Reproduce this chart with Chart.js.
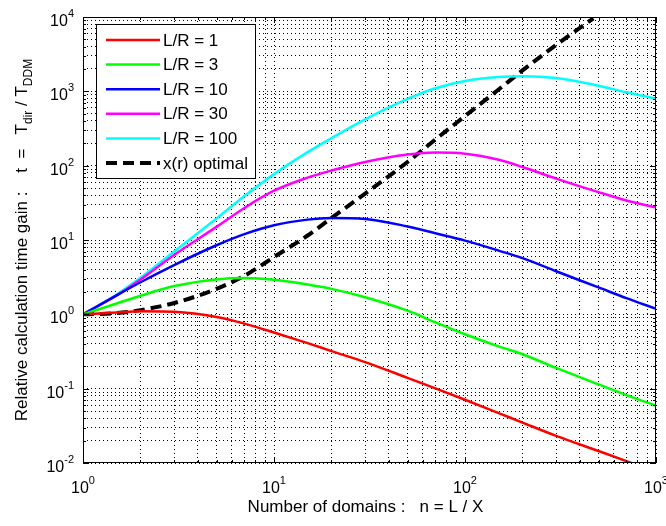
<!DOCTYPE html>
<html lang="en">
<head>
    <meta charset="UTF-8">
    <title>Relative calculation time gain</title>
    <script src="https://cdn.jsdelivr.net/npm/chart.js@4.4.0/dist/chart.umd.min.js"></script>
    <style>
        html, body { margin: 0; padding: 0; background: #fff; }
        #wrap { width: 666px; height: 526px; position: relative; }
    </style>
</head>
<body>
<div id="wrap"><canvas id="gainChart"></canvas></div>
<script>
// number of domains n (x axis)
const nValues = [1, 1.5, 2, 3, 5, 7, 10, 15, 20, 30, 50, 70, 100, 150, 200, 300, 500, 700, 1000];

// time gain t for each L/R ratio
const gainLR1   = [1, 1.06, 1.1, 1.08, 0.92, 0.75, 0.57, 0.41, 0.32, 0.228, 0.14, 0.101, 0.071, 0.047, 0.035, 0.0232, 0.0145, 0.0106, 0.0075];
const gainLR3   = [1, 1.4, 1.78, 2.4, 2.95, 3.08, 2.92, 2.52, 2.2, 1.7, 1.12, 0.78, 0.54, 0.37, 0.29, 0.19, 0.114, 0.082, 0.059];
const gainLR10  = [1, 1.8, 2.7, 4.6, 8.5, 12, 15.8, 18.8, 19.7, 19.2, 15.2, 12.3, 9.8, 7.2, 5.7, 3.8, 2.3, 1.65, 1.19];
const gainLR30  = [1, 1.8, 2.95, 6.3, 15, 27, 46, 69, 86, 112, 141, 150, 145, 120, 96, 67, 44, 34, 27.3];
const gainLR100 = [1, 1.85, 3.1, 7.0, 19.5, 39, 77, 152, 235, 420, 790, 1100, 1380, 1560, 1600, 1510, 1190, 970, 800];

// optimal curve x(r)
const nOptimal    = [1, 1.5, 2, 3, 5, 7, 10, 15, 20, 30, 50, 70, 100, 150, 200, 300, 470];
const gainOptimal = [1, 1.04, 1.14, 1.42, 2.2, 3.3, 5.9, 11.5, 19.8, 42, 112, 225, 465, 1060, 1910, 4200, 9600];

const seriesLabels = ['L/R = 1', 'L/R = 3', 'L/R = 10', 'L/R = 30', 'L/R = 100', 'x(r) optimal'];
const seriesColors = ['#ff0000', '#00ff00', '#0000ff', '#ff00ff', '#00ffff', '#000000'];

const xDecades = [1, 10, 100, 1000];
const yDecades = [0.01, 0.1, 1, 10, 100, 1000, 10000];
const xExponents = ['0', '1', '2', '3'];
const yExponents = ['-2', '-1', '0', '1', '2', '3', '4'];

const xTitle = 'Number of domains :   n = L / X';
// y title pieces: [text, subscript?]
const yTitle = [['Relative calculation time gain :    t  =   T', false], ['dir', true], [' / T', false], ['DDM', true]];

const FONT = '"Liberation Sans", Arial, Helvetica, sans-serif';

function toPoints(xs, ys) {
    return xs.map((v, i) => ({ x: v, y: ys[i] }));
}

function logTicks(decades) {
    const out = [];
    for (let i = 0; i < decades.length - 1; i++) {
        for (let k = 1; k < 10; k++) out.push({ value: decades[i] * k });
    }
    out.push({ value: decades[decades.length - 1] });
    return out;
}

const curves = [gainLR1, gainLR3, gainLR10, gainLR30, gainLR100];
const datasets = curves.map((c, i) => ({
    label: seriesLabels[i],
    data: toPoints(nValues, c),
    borderColor: seriesColors[i],
    borderWidth: 2.5,
    pointRadius: 0,
    fill: false,
    cubicInterpolationMode: 'monotone'
}));
datasets.push({
    label: seriesLabels[5],
    data: toPoints(nOptimal, gainOptimal),
    borderColor: seriesColors[5],
    borderWidth: 4,
    borderDash: [11, 6],
    pointRadius: 0,
    fill: false,
    cubicInterpolationMode: 'monotone'
});

// draw box, inside ticks, tick labels, axis titles and legend like the matlab figure
const matlabFrame = {
    id: 'matlabFrame',
    afterDraw(chart) {
        const { ctx, chartArea: a, scales: { x, y } } = chart;
        ctx.save();
        ctx.strokeStyle = '#000';
        ctx.lineWidth = 1;
        ctx.setLineDash([]);
        ctx.strokeRect(a.left + 0.5, a.top + 0.5, a.right - a.left - 1, a.bottom - a.top - 1);

        // inside tick marks
        ctx.beginPath();
        x.ticks.forEach(t => {
            const px = Math.round(x.getPixelForValue(t.value)) + 0.5;
            const len = xDecades.includes(t.value) ? 6 : 3;
            ctx.moveTo(px, a.bottom); ctx.lineTo(px, a.bottom - len);
            ctx.moveTo(px, a.top); ctx.lineTo(px, a.top + len);
        });
        y.ticks.forEach(t => {
            const py = Math.round(y.getPixelForValue(t.value)) + 0.5;
            const len = yDecades.some(d => Math.abs(d - t.value) < d * 1e-6) ? 6 : 3;
            ctx.moveTo(a.left, py); ctx.lineTo(a.left + len, py);
            ctx.moveTo(a.right, py); ctx.lineTo(a.right - len, py);
        });
        ctx.stroke();

        ctx.fillStyle = '#000';
        const base = '16px ' + FONT, sup = '11px ' + FONT;
        const big = '17px ' + FONT, bigSub = '12px ' + FONT;

        // x tick labels
        xDecades.forEach((v, i) => {
            const px = x.getPixelForValue(v);
            ctx.font = base; const w1 = ctx.measureText('10').width;
            ctx.font = sup; const w2 = ctx.measureText(xExponents[i]).width;
            const left = px - (w1 + w2) / 2;
            ctx.textAlign = 'left'; ctx.textBaseline = 'alphabetic';
            ctx.font = base; ctx.fillText('10', left, a.bottom + 30);
            ctx.font = sup; ctx.fillText(xExponents[i], left + w1, a.bottom + 21);
        });

        // y tick labels
        yDecades.forEach((v, i) => {
            const py = y.getPixelForValue(v);
            ctx.font = sup; const w2 = ctx.measureText(yExponents[i]).width;
            ctx.font = base; const w1 = ctx.measureText('10').width;
            const right = a.left - 9;
            ctx.textAlign = 'left'; ctx.textBaseline = 'alphabetic';
            ctx.font = base; ctx.fillText('10', right - w2 - w1, py + 9);
            ctx.font = sup; ctx.fillText(yExponents[i], right - w2, py);
        });

        // x title
        ctx.font = big;
        ctx.textAlign = 'center';
        ctx.fillText(xTitle, (a.left + a.right) / 2 - 4, a.bottom + 49);

        // y title, rotated, with subscripts
        ctx.save();
        ctx.translate(27, (a.top + a.bottom) / 2);
        ctx.rotate(-Math.PI / 2);
        let total = 0;
        yTitle.forEach(([s, sub]) => { ctx.font = sub ? bigSub : big; total += ctx.measureText(s).width; });
        let cx = -total / 2;
        ctx.textAlign = 'left';
        yTitle.forEach(([s, sub]) => {
            ctx.font = sub ? bigSub : big;
            ctx.fillText(s, cx, sub ? 5 : 0);
            cx += ctx.measureText(s).width;
        });
        ctx.restore();

        // legend box
        const bx = a.left + 13, by = a.top + 7, bw = 159, bh = 154;
        ctx.fillStyle = '#fff';
        ctx.fillRect(bx, by, bw, bh);
        ctx.strokeStyle = '#000';
        ctx.lineWidth = 1;
        ctx.strokeRect(bx + 0.5, by + 0.5, bw, bh);
        chart.data.datasets.forEach((ds, i) => {
            const ly = by + 16 + i * 24.6;
            ctx.strokeStyle = ds.borderColor;
            ctx.lineWidth = ds.borderWidth;
            ctx.setLineDash(ds.borderDash || []);
            ctx.beginPath();
            ctx.moveTo(bx + 10, ly); ctx.lineTo(bx + 64, ly);
            ctx.stroke();
            ctx.setLineDash([]);
            ctx.fillStyle = '#000';
            ctx.font = big;
            ctx.textAlign = 'left';
            ctx.textBaseline = 'middle';
            ctx.fillText(ds.label, bx + 67, ly + 1);
        });
        ctx.restore();
    }
};

new Chart(document.getElementById('gainChart'), {
    type: 'line',
    data: { datasets: datasets },
    options: {
        responsive: true,
        maintainAspectRatio: false,
        animation: false,
        layout: { padding: { left: 83, top: 17, right: 10, bottom: 63 } },
        plugins: {
            legend: { display: false },
            tooltip: { enabled: false }
        },
        scales: {
            x: {
                type: 'logarithmic',
                min: 1,
                max: 1000,
                afterBuildTicks: s => { s.ticks = logTicks(xDecades); },
                ticks: { display: false, autoSkip: false },
                grid: { color: '#000', lineWidth: 1, drawTicks: false },
                border: { display: false, dash: [1, 3] }
            },
            y: {
                type: 'logarithmic',
                min: 0.01,
                max: 10000,
                afterBuildTicks: s => { s.ticks = logTicks(yDecades); },
                ticks: { display: false, autoSkip: false },
                grid: { color: '#000', lineWidth: 1, drawTicks: false },
                border: { display: false, dash: [1, 3] }
            }
        }
    },
    plugins: [matlabFrame]
});
</script>
</body>
</html>
